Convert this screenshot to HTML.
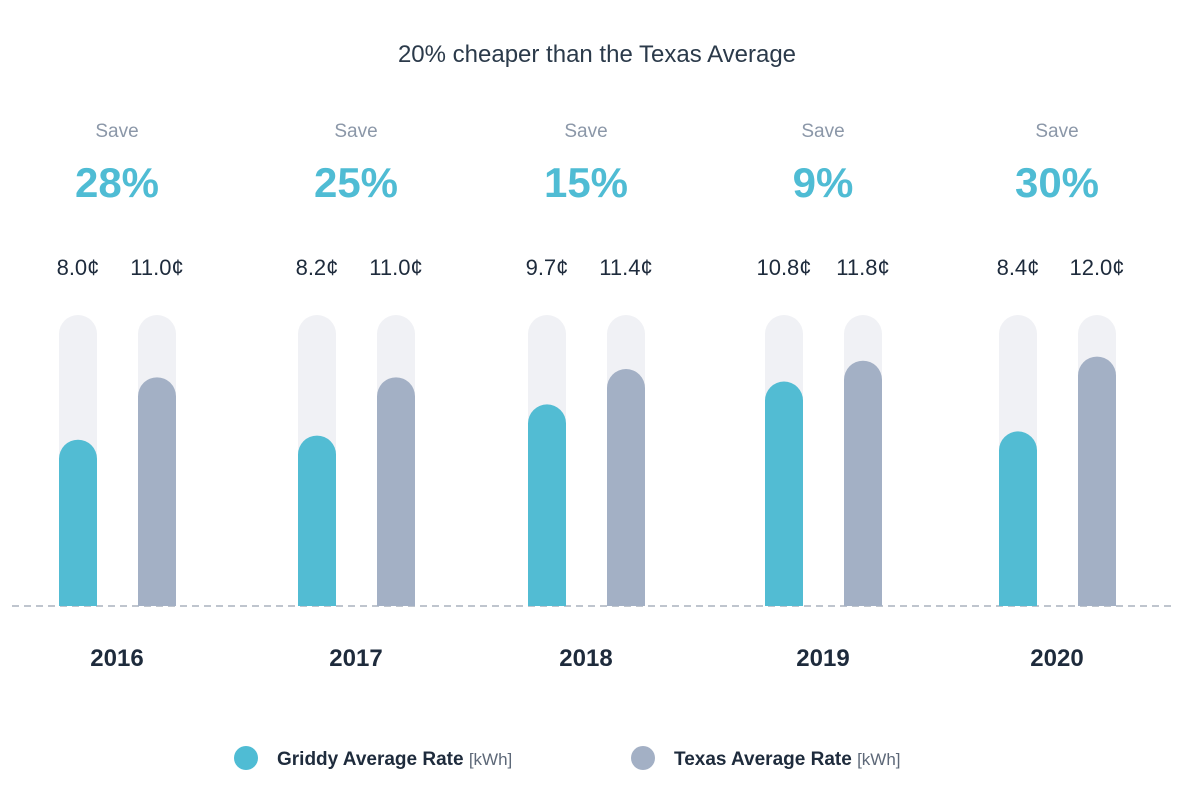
<!DOCTYPE html>
<html><head><meta charset="utf-8"><style>
body{margin:0;background:#fff;font-family:"Liberation Sans",sans-serif;}
svg text{font-family:"Liberation Sans",sans-serif;}
</style></head><body>
<svg width="1200" height="785" viewBox="0 0 1200 785">
<text x="597" y="62" text-anchor="middle" font-size="24" fill="#2b3a4a">20% cheaper than the Texas Average</text>
<line x1="12" y1="606" x2="1176" y2="606" stroke="#aab2bd" stroke-width="1.5" stroke-dasharray="7,5"/>
<g id="bars"></g>
<g>
<circle cx="246" cy="758" r="12" fill="#4fbcd4"/>
<text x="277" y="765" font-size="19" fill="#1e2b3c" font-weight="bold">Griddy Average Rate <tspan font-weight="normal" fill="#5d6878" font-size="17">[kWh]</tspan></text>
<circle cx="643" cy="758" r="12" fill="#a3b0c5"/>
<text x="674" y="765" font-size="19" fill="#1e2b3c" font-weight="bold">Texas Average Rate <tspan font-weight="normal" fill="#5d6878" font-size="17">[kWh]</tspan></text>
</g>
</svg>
<script>
const years=["2016","2017","2018","2019","2020"];
const griddy=[8.0,8.2,9.7,10.8,8.4];
const texas=[11.0,11.0,11.4,11.8,12.0];
const savings=["28%","25%","15%","9%","30%"];
const maxVal=14;
const base=606, top0=315, bw=38;
const centers=[117,356,586,823,1057];
const y=v=>base-(v/maxVal)*(base-top0);
const ns="http://www.w3.org/2000/svg";
const g=document.getElementById('bars');
function mk(tag,attrs){const e=document.createElementNS(ns,tag);for(const k in attrs)e.setAttribute(k,attrs[k]);g.appendChild(e);return e;}
function barPath(x,t){const r=bw/2;return `M${x},${base}L${x},${t+r}A${r},${r} 0 0 1 ${x+bw},${t+r}L${x+bw},${base}Z`;}
years.forEach((yr,i)=>{
 const c=centers[i];
 const xs=[c-58,c+21];
 const vals=[griddy[i],texas[i]];
 const cols=["#52bcd3","#a3b0c5"];
 xs.forEach((x,j)=>{
  const tr=mk('path',{d:barPath(x,top0),fill:"#f0f1f5"});
  
  
  const b=mk('path',{d:barPath(x,y(vals[j])),fill:cols[j]});
  
  
  const t=mk('text',{x:x+bw/2,y:275,'text-anchor':'middle','font-size':22,fill:'#1e2b3c'});
  t.textContent=vals[j].toFixed(1)+'¢';
  
  
 });
 const s=mk('text',{x:c,y:137,'text-anchor':'middle','font-size':19,fill:'#8b97a8'});
 s.textContent='Save';
 
 
 const p=mk('text',{x:c,y:197,'text-anchor':'middle','font-size':42,'font-weight':'bold',fill:'#4fbcd4'});
 p.textContent=savings[i];
 
 
 const yl=mk('text',{x:c,y:666,'text-anchor':'middle','font-size':24,'font-weight':'bold',fill:'#1e2b3c'});
 yl.textContent=yr;
 
 
});
</script>
</body></html>
